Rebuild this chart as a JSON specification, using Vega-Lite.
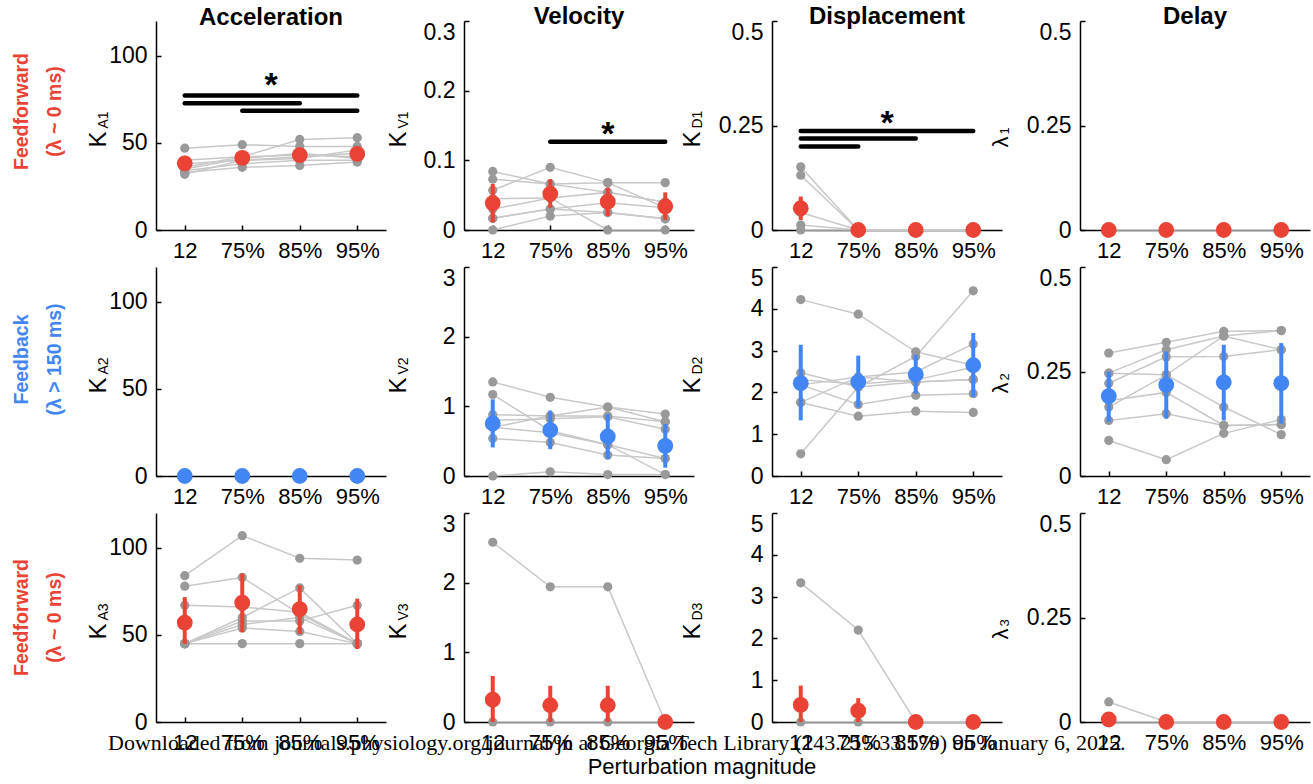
{
"$schema":"https://vega.github.io/schema/vega-lite/v6.json",
"padding":{"left":11,"top":5,"right":4,"bottom":2},
"background":"white",
"datasets":{
"subj":[
{"p":"A1","s":1,"m":1,"v":47},{"p":"A1","s":1,"m":2,"v":49},{"p":"A1","s":1,"m":3,"v":48},{"p":"A1","s":1,"m":4,"v":48},
{"p":"A1","s":2,"m":1,"v":40},{"p":"A1","s":2,"m":2,"v":42},{"p":"A1","s":2,"m":3,"v":52},{"p":"A1","s":2,"m":4,"v":53},
{"p":"A1","s":3,"m":1,"v":38},{"p":"A1","s":3,"m":2,"v":40},{"p":"A1","s":3,"m":3,"v":41},{"p":"A1","s":3,"m":4,"v":46},
{"p":"A1","s":4,"m":1,"v":36},{"p":"A1","s":4,"m":2,"v":42},{"p":"A1","s":4,"m":3,"v":43},{"p":"A1","s":4,"m":4,"v":42},
{"p":"A1","s":5,"m":1,"v":34},{"p":"A1","s":5,"m":2,"v":38},{"p":"A1","s":5,"m":3,"v":40},{"p":"A1","s":5,"m":4,"v":40},
{"p":"A1","s":6,"m":1,"v":33},{"p":"A1","s":6,"m":2,"v":36},{"p":"A1","s":6,"m":3,"v":37},{"p":"A1","s":6,"m":4,"v":39},
{"p":"A1","s":7,"m":1,"v":35},{"p":"A1","s":7,"m":2,"v":41},{"p":"A1","s":7,"m":3,"v":44},{"p":"A1","s":7,"m":4,"v":41},
{"p":"A1","s":8,"m":1,"v":32},{"p":"A1","s":8,"m":2,"v":40},{"p":"A1","s":8,"m":3,"v":42},{"p":"A1","s":8,"m":4,"v":44},
{"p":"V1","s":1,"m":1,"v":0.084},{"p":"V1","s":1,"m":2,"v":0.066},{"p":"V1","s":1,"m":3,"v":0.068},{"p":"V1","s":1,"m":4,"v":0.068},
{"p":"V1","s":2,"m":1,"v":0.073},{"p":"V1","s":2,"m":2,"v":0.066},{"p":"V1","s":2,"m":3,"v":0.054},{"p":"V1","s":2,"m":4,"v":0.040},
{"p":"V1","s":3,"m":1,"v":0.057},{"p":"V1","s":3,"m":2,"v":0.090},{"p":"V1","s":3,"m":3,"v":0.068},{"p":"V1","s":3,"m":4,"v":0.032},
{"p":"V1","s":4,"m":1,"v":0.030},{"p":"V1","s":4,"m":2,"v":0.046},{"p":"V1","s":4,"m":3,"v":0.054},{"p":"V1","s":4,"m":4,"v":0.040},
{"p":"V1","s":5,"m":1,"v":0.017},{"p":"V1","s":5,"m":2,"v":0.030},{"p":"V1","s":5,"m":3,"v":0.039},{"p":"V1","s":5,"m":4,"v":0.032},
{"p":"V1","s":6,"m":1,"v":0.0},{"p":"V1","s":6,"m":2,"v":0.020},{"p":"V1","s":6,"m":3,"v":0.025},{"p":"V1","s":6,"m":4,"v":0.016},
{"p":"V1","s":7,"m":1,"v":0.045},{"p":"V1","s":7,"m":2,"v":0.046},{"p":"V1","s":7,"m":3,"v":0.0},{"p":"V1","s":7,"m":4,"v":0.0},
{"p":"V1","s":8,"m":1,"v":0.017},{"p":"V1","s":8,"m":2,"v":0.030},{"p":"V1","s":8,"m":3,"v":0.025},{"p":"V1","s":8,"m":4,"v":0.016},
{"p":"D1","s":1,"m":1,"v":0.151},{"p":"D1","s":1,"m":2,"v":0},{"p":"D1","s":1,"m":3,"v":0},{"p":"D1","s":1,"m":4,"v":0},
{"p":"D1","s":2,"m":1,"v":0.131},{"p":"D1","s":2,"m":2,"v":0},{"p":"D1","s":2,"m":3,"v":0},{"p":"D1","s":2,"m":4,"v":0},
{"p":"D1","s":3,"m":1,"v":0.012},{"p":"D1","s":3,"m":2,"v":0},{"p":"D1","s":3,"m":3,"v":0},{"p":"D1","s":3,"m":4,"v":0},
{"p":"D1","s":4,"m":1,"v":0.042},{"p":"D1","s":4,"m":2,"v":0},{"p":"D1","s":4,"m":3,"v":0},{"p":"D1","s":4,"m":4,"v":0},
{"p":"D1","s":5,"m":1,"v":0},{"p":"D1","s":5,"m":2,"v":0},{"p":"D1","s":5,"m":3,"v":0},{"p":"D1","s":5,"m":4,"v":0},
{"p":"L1","s":1,"m":1,"v":0},{"p":"L1","s":1,"m":2,"v":0},{"p":"L1","s":1,"m":3,"v":0},{"p":"L1","s":1,"m":4,"v":0},
{"p":"V2","s":1,"m":1,"v":1.35},{"p":"V2","s":1,"m":2,"v":1.13},{"p":"V2","s":1,"m":3,"v":0.99},{"p":"V2","s":1,"m":4,"v":0.78},
{"p":"V2","s":2,"m":1,"v":1.17},{"p":"V2","s":2,"m":2,"v":0.65},{"p":"V2","s":2,"m":3,"v":0.45},{"p":"V2","s":2,"m":4,"v":0.02},
{"p":"V2","s":3,"m":1,"v":0.88},{"p":"V2","s":3,"m":2,"v":0.86},{"p":"V2","s":3,"m":3,"v":0.86},{"p":"V2","s":3,"m":4,"v":0.78},
{"p":"V2","s":4,"m":1,"v":0.70},{"p":"V2","s":4,"m":2,"v":0.86},{"p":"V2","s":4,"m":3,"v":0.99},{"p":"V2","s":4,"m":4,"v":0.89},
{"p":"V2","s":5,"m":1,"v":0.70},{"p":"V2","s":5,"m":2,"v":0.62},{"p":"V2","s":5,"m":3,"v":0.45},{"p":"V2","s":5,"m":4,"v":0.25},
{"p":"V2","s":6,"m":1,"v":0.54},{"p":"V2","s":6,"m":2,"v":0.48},{"p":"V2","s":6,"m":3,"v":0.30},{"p":"V2","s":6,"m":4,"v":0.25},
{"p":"V2","s":7,"m":1,"v":0.0},{"p":"V2","s":7,"m":2,"v":0.06},{"p":"V2","s":7,"m":3,"v":0.02},{"p":"V2","s":7,"m":4,"v":0.02},
{"p":"V2","s":8,"m":1,"v":0.80},{"p":"V2","s":8,"m":2,"v":0.82},{"p":"V2","s":8,"m":3,"v":0.85},{"p":"V2","s":8,"m":4,"v":0.67},
{"p":"D2","s":1,"m":1,"v":4.22},{"p":"D2","s":1,"m":2,"v":3.87},{"p":"D2","s":1,"m":3,"v":2.97},{"p":"D2","s":1,"m":4,"v":2.65},
{"p":"D2","s":2,"m":1,"v":0.53},{"p":"D2","s":2,"m":2,"v":2.13},{"p":"D2","s":2,"m":3,"v":2.86},{"p":"D2","s":2,"m":4,"v":4.43},
{"p":"D2","s":3,"m":1,"v":2.47},{"p":"D2","s":3,"m":2,"v":2.13},{"p":"D2","s":3,"m":3,"v":2.25},{"p":"D2","s":3,"m":4,"v":2.31},
{"p":"D2","s":4,"m":1,"v":2.18},{"p":"D2","s":4,"m":2,"v":2.37},{"p":"D2","s":4,"m":3,"v":2.49},{"p":"D2","s":4,"m":4,"v":3.16},
{"p":"D2","s":5,"m":1,"v":1.76},{"p":"D2","s":5,"m":2,"v":1.43},{"p":"D2","s":5,"m":3,"v":1.55},{"p":"D2","s":5,"m":4,"v":1.52},
{"p":"D2","s":6,"m":1,"v":2.18},{"p":"D2","s":6,"m":2,"v":1.71},{"p":"D2","s":6,"m":3,"v":1.93},{"p":"D2","s":6,"m":4,"v":1.97},
{"p":"D2","s":7,"m":1,"v":1.76},{"p":"D2","s":7,"m":2,"v":2.37},{"p":"D2","s":7,"m":3,"v":2.25},{"p":"D2","s":7,"m":4,"v":2.31},
{"p":"D2","s":8,"m":1,"v":2.30},{"p":"D2","s":8,"m":2,"v":2.20},{"p":"D2","s":8,"m":3,"v":2.30},{"p":"D2","s":8,"m":4,"v":2.60},
{"p":"L2","s":1,"m":1,"v":0.294},{"p":"L2","s":1,"m":2,"v":0.320},{"p":"L2","s":1,"m":3,"v":0.346},{"p":"L2","s":1,"m":4,"v":0.348},
{"p":"L2","s":2,"m":1,"v":0.246},{"p":"L2","s":2,"m":2,"v":0.302},{"p":"L2","s":2,"m":3,"v":0.335},{"p":"L2","s":2,"m":4,"v":0.302},
{"p":"L2","s":3,"m":1,"v":0.222},{"p":"L2","s":3,"m":2,"v":0.285},{"p":"L2","s":3,"m":3,"v":0.286},{"p":"L2","s":3,"m":4,"v":0.302},
{"p":"L2","s":4,"m":1,"v":0.246},{"p":"L2","s":4,"m":2,"v":0.242},{"p":"L2","s":4,"m":3,"v":0.335},{"p":"L2","s":4,"m":4,"v":0.348},
{"p":"L2","s":5,"m":1,"v":0.165},{"p":"L2","s":5,"m":2,"v":0.242},{"p":"L2","s":5,"m":3,"v":0.165},{"p":"L2","s":5,"m":4,"v":0.099},
{"p":"L2","s":6,"m":1,"v":0.133},{"p":"L2","s":6,"m":2,"v":0.149},{"p":"L2","s":6,"m":3,"v":0.121},{"p":"L2","s":6,"m":4,"v":0.123},
{"p":"L2","s":7,"m":1,"v":0.085},{"p":"L2","s":7,"m":2,"v":0.039},{"p":"L2","s":7,"m":3,"v":0.102},{"p":"L2","s":7,"m":4,"v":0.135},
{"p":"L2","s":8,"m":1,"v":0.180},{"p":"L2","s":8,"m":2,"v":0.200},{"p":"L2","s":8,"m":3,"v":0.121},{"p":"L2","s":8,"m":4,"v":0.123},
{"p":"A3","s":1,"m":1,"v":84},{"p":"A3","s":1,"m":2,"v":107},{"p":"A3","s":1,"m":3,"v":94},{"p":"A3","s":1,"m":4,"v":93},
{"p":"A3","s":2,"m":1,"v":78},{"p":"A3","s":2,"m":2,"v":83},{"p":"A3","s":2,"m":3,"v":62},{"p":"A3","s":2,"m":4,"v":45},
{"p":"A3","s":3,"m":1,"v":67},{"p":"A3","s":3,"m":2,"v":66},{"p":"A3","s":3,"m":3,"v":63},{"p":"A3","s":3,"m":4,"v":45},
{"p":"A3","s":4,"m":1,"v":45},{"p":"A3","s":4,"m":2,"v":60},{"p":"A3","s":4,"m":3,"v":77},{"p":"A3","s":4,"m":4,"v":45},
{"p":"A3","s":5,"m":1,"v":45},{"p":"A3","s":5,"m":2,"v":58},{"p":"A3","s":5,"m":3,"v":58},{"p":"A3","s":5,"m":4,"v":67},
{"p":"A3","s":6,"m":1,"v":45},{"p":"A3","s":6,"m":2,"v":54},{"p":"A3","s":6,"m":3,"v":52},{"p":"A3","s":6,"m":4,"v":45},
{"p":"A3","s":7,"m":1,"v":45},{"p":"A3","s":7,"m":2,"v":45},{"p":"A3","s":7,"m":3,"v":45},{"p":"A3","s":7,"m":4,"v":45},
{"p":"A3","s":8,"m":1,"v":45},{"p":"A3","s":8,"m":2,"v":56},{"p":"A3","s":8,"m":3,"v":60},{"p":"A3","s":8,"m":4,"v":45},
{"p":"V3","s":1,"m":1,"v":2.58},{"p":"V3","s":1,"m":2,"v":1.94},{"p":"V3","s":1,"m":3,"v":1.94},{"p":"V3","s":1,"m":4,"v":0},
{"p":"V3","s":2,"m":1,"v":0},{"p":"V3","s":2,"m":2,"v":0},{"p":"V3","s":2,"m":3,"v":0},{"p":"V3","s":2,"m":4,"v":0},
{"p":"D3","s":1,"m":1,"v":3.33},{"p":"D3","s":1,"m":2,"v":2.2},{"p":"D3","s":1,"m":3,"v":0},{"p":"D3","s":1,"m":4,"v":0},
{"p":"D3","s":2,"m":1,"v":0},{"p":"D3","s":2,"m":2,"v":0},{"p":"D3","s":2,"m":3,"v":0},{"p":"D3","s":2,"m":4,"v":0},
{"p":"L3","s":1,"m":1,"v":0.048},{"p":"L3","s":1,"m":2,"v":0},{"p":"L3","s":1,"m":3,"v":0},{"p":"L3","s":1,"m":4,"v":0},
{"p":"L3","s":2,"m":1,"v":0},{"p":"L3","s":2,"m":2,"v":0},{"p":"L3","s":2,"m":3,"v":0},{"p":"L3","s":2,"m":4,"v":0}
],
"means":[
{"p":"A1","m":1,"mean":38.3,"lo":34.3,"hi":42.3},{"p":"A1","m":2,"mean":41.4,"lo":37.4,"hi":45.4},{"p":"A1","m":3,"mean":43,"lo":39,"hi":47},{"p":"A1","m":4,"mean":43.7,"lo":39.7,"hi":47.7},
{"p":"V1","m":1,"mean":0.0386,"lo":0.011,"hi":0.066},{"p":"V1","m":2,"mean":0.052,"lo":0.032,"hi":0.073},{"p":"V1","m":3,"mean":0.0406,"lo":0.020,"hi":0.061},{"p":"V1","m":4,"mean":0.034,"lo":0.0145,"hi":0.054},
{"p":"D1","m":1,"mean":0.052,"lo":0.024,"hi":0.080},{"p":"D1","m":2,"mean":0,"lo":0,"hi":0},{"p":"D1","m":3,"mean":0,"lo":0,"hi":0},{"p":"D1","m":4,"mean":0,"lo":0,"hi":0},
{"p":"L1","m":1,"mean":0,"lo":0,"hi":0},{"p":"L1","m":2,"mean":0,"lo":0,"hi":0},{"p":"L1","m":3,"mean":0,"lo":0,"hi":0},{"p":"L1","m":4,"mean":0,"lo":0,"hi":0},
{"p":"A2","m":1,"mean":0,"lo":0,"hi":0},{"p":"A2","m":2,"mean":0,"lo":0,"hi":0},{"p":"A2","m":3,"mean":0,"lo":0,"hi":0},{"p":"A2","m":4,"mean":0,"lo":0,"hi":0},
{"p":"V2","m":1,"mean":0.755,"lo":0.41,"hi":1.10},{"p":"V2","m":2,"mean":0.659,"lo":0.385,"hi":0.94},{"p":"V2","m":3,"mean":0.567,"lo":0.24,"hi":0.89},{"p":"V2","m":4,"mean":0.433,"lo":0.12,"hi":0.745},
{"p":"D2","m":1,"mean":2.22,"lo":1.33,"hi":3.14},{"p":"D2","m":2,"mean":2.25,"lo":1.64,"hi":2.88},{"p":"D2","m":3,"mean":2.43,"lo":1.97,"hi":2.90},{"p":"D2","m":4,"mean":2.65,"lo":1.89,"hi":3.42},
{"p":"L2","m":1,"mean":0.191,"lo":0.129,"hi":0.25},{"p":"L2","m":2,"mean":0.218,"lo":0.137,"hi":0.298},{"p":"L2","m":3,"mean":0.224,"lo":0.133,"hi":0.314},{"p":"L2","m":4,"mean":0.222,"lo":0.125,"hi":0.318},
{"p":"A3","m":1,"mean":57.1,"lo":44.8,"hi":71.7},{"p":"A3","m":2,"mean":68.5,"lo":51.5,"hi":85.2},{"p":"A3","m":3,"mean":64.8,"lo":50.6,"hi":78.5},{"p":"A3","m":4,"mean":56,"lo":41.9,"hi":70.8},
{"p":"V3","m":1,"mean":0.32,"lo":0,"hi":0.66},{"p":"V3","m":2,"mean":0.24,"lo":0,"hi":0.52},{"p":"V3","m":3,"mean":0.24,"lo":0,"hi":0.52},{"p":"V3","m":4,"mean":0,"lo":0,"hi":0},
{"p":"D3","m":1,"mean":0.41,"lo":0,"hi":0.87},{"p":"D3","m":2,"mean":0.27,"lo":0,"hi":0.57},{"p":"D3","m":3,"mean":0,"lo":0,"hi":0},{"p":"D3","m":4,"mean":0,"lo":0,"hi":0},
{"p":"L3","m":1,"mean":0.006,"lo":0,"hi":0.006},{"p":"L3","m":2,"mean":0,"lo":0,"hi":0},{"p":"L3","m":3,"mean":0,"lo":0,"hi":0},{"p":"L3","m":4,"mean":0,"lo":0,"hi":0}
],
"sig":[
{"p":"A1","m":1,"m2":4,"v":77.2},{"p":"A1","m":1,"m2":3,"v":72.8},{"p":"A1","m":2,"m2":4,"v":68.4},
{"p":"V1","m":2,"m2":4,"v":0.1266},
{"p":"D1","m":1,"m2":4,"v":0.237},{"p":"D1","m":1,"m2":3,"v":0.219},{"p":"D1","m":1,"m2":2,"v":0.2}
],
"star":[
{"p":"A1","m":2.5,"v":87,"t":"*"},{"p":"V1","m":3,"v":0.148,"t":"*"},{"p":"D1","m":2.5,"v":0.272,"t":"*"}
]
},
"title":{"text":"Downloaded from journals.physiology.org/journal/jn at Georgia Tech Library (143.215.33.179) on January 6, 2025.","orient":"bottom","anchor":"start","font":"Liberation Serif","fontSize":22,"fontWeight":"normal","color":"black","offset":-45,"dx":97},
"columns":4,
"spacing":{"row":37,"column":78},
"bounds":"flush",
"concat":[
 {"width":230,"height":209,"title":{"text":"Acceleration","frame":"group","fontSize":24,"fontWeight":"bold","baseline":"alphabetic","offset":-28},
  "resolve":{"axis":{"y":"independent"}},
  "layer":[
   {"data":{"name":"subj"},"transform":[{"filter":"datum.p=='A1'"}],"mark":{"type":"line","color":"#c8c8c8","strokeWidth":1.5},
    "encoding":{"x":{"field":"m","type":"quantitative","scale":{"domain":[0.5,4.5]},"axis":{"title":null,"values":[1,2,3,4],"labelExpr":"['','12','75%','85%','95%'][datum.value]"}},
     "y":{"field":"v","type":"quantitative","scale":{"domain":[0,120]},"axis":{"values":[0,50,100],"labelExpr":"''+datum.value","title":"K","titleFontSize":24,"titleAngle":-90,"titleAlign":"left","titleBaseline":"middle","titleX":-58,"titleY":126}},
     "detail":{"field":"s"}}},
   {"data":{"name":"subj"},"transform":[{"filter":"datum.p=='A1'"}],"mark":{"type":"circle","color":"#999999","size":85,"opacity":1},
    "encoding":{"x":{"field":"m","type":"quantitative"},
     "y":{"field":"v","type":"quantitative","axis":{"orient":"left","labels":false,"ticks":false,"domain":false,"title":"A1","titleFontSize":14,"titleAngle":-90,"titleAlign":"left","titleBaseline":"middle","titleX":-53,"titleY":107}}}},
   {"data":{"name":"sig"},"transform":[{"filter":"datum.p=='A1'"}],"mark":{"type":"rule","color":"black","strokeWidth":4.5,"strokeCap":"round"},
    "encoding":{"x":{"field":"m","type":"quantitative"},"x2":{"field":"m2"},"y":{"field":"v","type":"quantitative","axis":null}}},
   {"data":{"name":"star"},"transform":[{"filter":"datum.p=='A1'"}],"mark":{"type":"text","fontSize":34,"fontWeight":"bold","dy":8,"color":"black"},
    "encoding":{"x":{"field":"m","type":"quantitative"},"y":{"field":"v","type":"quantitative","axis":null},"text":{"field":"t"}}},
   {"data":{"name":"means"},"transform":[{"filter":"datum.p=='A1'"}],"mark":{"type":"rule","color":"#EA4335","strokeWidth":4},
    "encoding":{"x":{"field":"m","type":"quantitative"},"y":{"field":"lo","type":"quantitative","axis":null},"y2":{"field":"hi"}}},
   {"data":{"name":"means"},"transform":[{"filter":"datum.p=='A1'"}],"mark":{"type":"circle","color":"#EA4335","size":250,"opacity":1},
    "encoding":{"x":{"field":"m","type":"quantitative"},"y":{"field":"mean","type":"quantitative","axis":{"orient":"left","labels":false,"ticks":false,"domain":false,"title":["Feedforward","(λ ~ 0 ms)"],"titleColor":"#EA4335","titleFontWeight":"bold","titleFontSize":19.5,"titleLineHeight":33,"titleAngle":-90,"titleAlign":"center","titleBaseline":"top","titleX":-144,"titleY":90}}}}
  ]},
 {"width":230,"height":209,"title":{"text":"Velocity","frame":"group","fontSize":24,"fontWeight":"bold","baseline":"alphabetic","offset":-28},
  "resolve":{"axis":{"y":"independent"}},
  "layer":[
   {"data":{"name":"subj"},"transform":[{"filter":"datum.p=='V1'"}],"mark":{"type":"line","color":"#c8c8c8","strokeWidth":1.5},
    "encoding":{"x":{"field":"m","type":"quantitative","scale":{"domain":[0.5,4.5]},"axis":{"title":null,"values":[1,2,3,4],"labelExpr":"['','12','75%','85%','95%'][datum.value]"}},
     "y":{"field":"v","type":"quantitative","scale":{"domain":[0,0.3]},"axis":{"values":[0,0.1,0.2,0.3],"labelExpr":"''+datum.value","labelBaseline":{"condition":{"test":"datum.value==0.3","value":"top"},"value":"middle"},"title":"K","titleFontSize":24,"titleAngle":-90,"titleAlign":"left","titleBaseline":"middle","titleX":-66,"titleY":126}},
     "detail":{"field":"s"}}},
   {"data":{"name":"subj"},"transform":[{"filter":"datum.p=='V1'"}],"mark":{"type":"circle","color":"#999999","size":85,"opacity":1},
    "encoding":{"x":{"field":"m","type":"quantitative"},
     "y":{"field":"v","type":"quantitative","axis":{"orient":"left","labels":false,"ticks":false,"domain":false,"title":"V1","titleFontSize":14,"titleAngle":-90,"titleAlign":"left","titleBaseline":"middle","titleX":-61,"titleY":107}}}},
   {"data":{"name":"sig"},"transform":[{"filter":"datum.p=='V1'"}],"mark":{"type":"rule","color":"black","strokeWidth":4.5,"strokeCap":"round"},
    "encoding":{"x":{"field":"m","type":"quantitative"},"x2":{"field":"m2"},"y":{"field":"v","type":"quantitative","axis":null}}},
   {"data":{"name":"star"},"transform":[{"filter":"datum.p=='V1'"}],"mark":{"type":"text","fontSize":34,"fontWeight":"bold","dy":8,"color":"black"},
    "encoding":{"x":{"field":"m","type":"quantitative"},"y":{"field":"v","type":"quantitative","axis":null},"text":{"field":"t"}}},
   {"data":{"name":"means"},"transform":[{"filter":"datum.p=='V1'"}],"mark":{"type":"rule","color":"#EA4335","strokeWidth":4},
    "encoding":{"x":{"field":"m","type":"quantitative"},"y":{"field":"lo","type":"quantitative","axis":null},"y2":{"field":"hi"}}},
   {"data":{"name":"means"},"transform":[{"filter":"datum.p=='V1'"}],"mark":{"type":"circle","color":"#EA4335","size":250,"opacity":1},
    "encoding":{"x":{"field":"m","type":"quantitative"},"y":{"field":"mean","type":"quantitative","axis":null}}}
  ]},
 {"width":230,"height":209,"title":{"text":"Displacement","frame":"group","fontSize":24,"fontWeight":"bold","baseline":"alphabetic","offset":-28},
  "resolve":{"axis":{"y":"independent"}},
  "layer":[
   {"data":{"name":"subj"},"transform":[{"filter":"datum.p=='D1'"}],"mark":{"type":"line","color":"#c8c8c8","strokeWidth":1.5},
    "encoding":{"x":{"field":"m","type":"quantitative","scale":{"domain":[0.5,4.5]},"axis":{"title":null,"values":[1,2,3,4],"labelExpr":"['','12','75%','85%','95%'][datum.value]"}},
     "y":{"field":"v","type":"quantitative","scale":{"domain":[0,0.5]},"axis":{"values":[0,0.25,0.5],"labelExpr":"''+datum.value","labelBaseline":{"condition":{"test":"datum.value==0.5","value":"top"},"value":"middle"},"title":"K","titleFontSize":24,"titleAngle":-90,"titleAlign":"left","titleBaseline":"middle","titleX":-80,"titleY":126}},
     "detail":{"field":"s"}}},
   {"data":{"name":"subj"},"transform":[{"filter":"datum.p=='D1'"}],"mark":{"type":"circle","color":"#999999","size":85,"opacity":1},
    "encoding":{"x":{"field":"m","type":"quantitative"},
     "y":{"field":"v","type":"quantitative","axis":{"orient":"left","labels":false,"ticks":false,"domain":false,"title":"D1","titleFontSize":14,"titleAngle":-90,"titleAlign":"left","titleBaseline":"middle","titleX":-75,"titleY":107}}}},
   {"data":{"name":"sig"},"transform":[{"filter":"datum.p=='D1'"}],"mark":{"type":"rule","color":"black","strokeWidth":4.5,"strokeCap":"round"},
    "encoding":{"x":{"field":"m","type":"quantitative"},"x2":{"field":"m2"},"y":{"field":"v","type":"quantitative","axis":null}}},
   {"data":{"name":"star"},"transform":[{"filter":"datum.p=='D1'"}],"mark":{"type":"text","fontSize":34,"fontWeight":"bold","dy":8,"color":"black"},
    "encoding":{"x":{"field":"m","type":"quantitative"},"y":{"field":"v","type":"quantitative","axis":null},"text":{"field":"t"}}},
   {"data":{"name":"means"},"transform":[{"filter":"datum.p=='D1'"}],"mark":{"type":"rule","color":"#EA4335","strokeWidth":4},
    "encoding":{"x":{"field":"m","type":"quantitative"},"y":{"field":"lo","type":"quantitative","axis":null},"y2":{"field":"hi"}}},
   {"data":{"name":"means"},"transform":[{"filter":"datum.p=='D1'"}],"mark":{"type":"circle","color":"#EA4335","size":250,"opacity":1},
    "encoding":{"x":{"field":"m","type":"quantitative"},"y":{"field":"mean","type":"quantitative","axis":null}}}
  ]},
 {"width":230,"height":209,"title":{"text":"Delay","frame":"group","fontSize":24,"fontWeight":"bold","baseline":"alphabetic","offset":-28},
  "resolve":{"axis":{"y":"independent"}},
  "layer":[
   {"data":{"name":"subj"},"transform":[{"filter":"datum.p=='L1'"}],"mark":{"type":"line","color":"#c8c8c8","strokeWidth":1.5},
    "encoding":{"x":{"field":"m","type":"quantitative","scale":{"domain":[0.5,4.5]},"axis":{"title":null,"values":[1,2,3,4],"labelExpr":"['','12','75%','85%','95%'][datum.value]"}},
     "y":{"field":"v","type":"quantitative","scale":{"domain":[0,0.5]},"axis":{"values":[0,0.25,0.5],"labelExpr":"''+datum.value","labelBaseline":{"condition":{"test":"datum.value==0.5","value":"top"},"value":"middle"},"title":"λ","titleFontSize":22,"titleAngle":-90,"titleAlign":"left","titleBaseline":"middle","titleX":-80,"titleY":126}},
     "detail":{"field":"s"}}},
   {"data":{"name":"subj"},"transform":[{"filter":"datum.p=='L1'"}],"mark":{"type":"circle","color":"#999999","size":85,"opacity":1},
    "encoding":{"x":{"field":"m","type":"quantitative"},
     "y":{"field":"v","type":"quantitative","axis":{"orient":"left","labels":false,"ticks":false,"domain":false,"title":"1","titleFontSize":13,"titleAngle":-90,"titleAlign":"left","titleBaseline":"middle","titleX":-76,"titleY":113}}}},
   {"data":{"name":"means"},"transform":[{"filter":"datum.p=='L1'"}],"mark":{"type":"rule","color":"#EA4335","strokeWidth":4},
    "encoding":{"x":{"field":"m","type":"quantitative"},"y":{"field":"lo","type":"quantitative","axis":null},"y2":{"field":"hi"}}},
   {"data":{"name":"means"},"transform":[{"filter":"datum.p=='L1'"}],"mark":{"type":"circle","color":"#EA4335","size":250,"opacity":1},
    "encoding":{"x":{"field":"m","type":"quantitative"},"y":{"field":"mean","type":"quantitative","axis":null}}}
  ]},
 {"width":230,"height":209,
  "resolve":{"axis":{"y":"independent"}},
  "layer":[
   {"data":{"name":"subj"},"transform":[{"filter":"datum.p=='A2'"}],"mark":{"type":"line","color":"#c8c8c8","strokeWidth":1.5},
    "encoding":{"x":{"field":"m","type":"quantitative","scale":{"domain":[0.5,4.5]},"axis":{"title":null,"values":[1,2,3,4],"labelExpr":"['','12','75%','85%','95%'][datum.value]"}},
     "y":{"field":"v","type":"quantitative","scale":{"domain":[0,120]},"axis":{"values":[0,50,100],"labelExpr":"''+datum.value","title":"K","titleFontSize":24,"titleAngle":-90,"titleAlign":"left","titleBaseline":"middle","titleX":-58,"titleY":126}},
     "detail":{"field":"s"}}},
   {"data":{"name":"means"},"transform":[{"filter":"datum.p=='A2'"}],"mark":{"type":"rule","color":"#4285F4","strokeWidth":4},
    "encoding":{"x":{"field":"m","type":"quantitative"},"y":{"field":"lo","type":"quantitative","axis":{"orient":"left","labels":false,"ticks":false,"domain":false,"title":"A2","titleFontSize":14,"titleAngle":-90,"titleAlign":"left","titleBaseline":"middle","titleX":-53,"titleY":107}},"y2":{"field":"hi"}}},
   {"data":{"name":"means"},"transform":[{"filter":"datum.p=='A2'"}],"mark":{"type":"circle","color":"#4285F4","size":250,"opacity":1},
    "encoding":{"x":{"field":"m","type":"quantitative"},"y":{"field":"mean","type":"quantitative","axis":{"orient":"left","labels":false,"ticks":false,"domain":false,"title":["Feedback","(λ > 150 ms)"],"titleColor":"#4285F4","titleFontWeight":"bold","titleFontSize":19.5,"titleLineHeight":33,"titleAngle":-90,"titleAlign":"center","titleBaseline":"top","titleX":-144,"titleY":92}}}}
  ]},
 {"width":230,"height":209,
  "resolve":{"axis":{"y":"independent"}},
  "layer":[
   {"data":{"name":"subj"},"transform":[{"filter":"datum.p=='V2'"}],"mark":{"type":"line","color":"#c8c8c8","strokeWidth":1.5},
    "encoding":{"x":{"field":"m","type":"quantitative","scale":{"domain":[0.5,4.5]},"axis":{"title":null,"values":[1,2,3,4],"labelExpr":"['','12','75%','85%','95%'][datum.value]"}},
     "y":{"field":"v","type":"quantitative","scale":{"domain":[0,3]},"axis":{"values":[0,1,2,3],"labelExpr":"''+datum.value","labelBaseline":{"condition":{"test":"datum.value==3","value":"top"},"value":"middle"},"title":"K","titleFontSize":24,"titleAngle":-90,"titleAlign":"left","titleBaseline":"middle","titleX":-66,"titleY":126}},
     "detail":{"field":"s"}}},
   {"data":{"name":"subj"},"transform":[{"filter":"datum.p=='V2'"}],"mark":{"type":"circle","color":"#999999","size":85,"opacity":1},
    "encoding":{"x":{"field":"m","type":"quantitative"},
     "y":{"field":"v","type":"quantitative","axis":{"orient":"left","labels":false,"ticks":false,"domain":false,"title":"V2","titleFontSize":14,"titleAngle":-90,"titleAlign":"left","titleBaseline":"middle","titleX":-61,"titleY":107}}}},
   {"data":{"name":"means"},"transform":[{"filter":"datum.p=='V2'"}],"mark":{"type":"rule","color":"#4285F4","strokeWidth":4},
    "encoding":{"x":{"field":"m","type":"quantitative"},"y":{"field":"lo","type":"quantitative","axis":null},"y2":{"field":"hi"}}},
   {"data":{"name":"means"},"transform":[{"filter":"datum.p=='V2'"}],"mark":{"type":"circle","color":"#4285F4","size":250,"opacity":1},
    "encoding":{"x":{"field":"m","type":"quantitative"},"y":{"field":"mean","type":"quantitative","axis":null}}}
  ]},
 {"width":230,"height":209,
  "resolve":{"axis":{"y":"independent"}},
  "layer":[
   {"data":{"name":"subj"},"transform":[{"filter":"datum.p=='D2'"}],"mark":{"type":"line","color":"#c8c8c8","strokeWidth":1.5},
    "encoding":{"x":{"field":"m","type":"quantitative","scale":{"domain":[0.5,4.5]},"axis":{"title":null,"values":[1,2,3,4],"labelExpr":"['','12','75%','85%','95%'][datum.value]"}},
     "y":{"field":"v","type":"quantitative","scale":{"domain":[0,5]},"axis":{"values":[0,1,2,3,4,5],"labelExpr":"''+datum.value","labelBaseline":{"condition":{"test":"datum.value==5","value":"top"},"value":"middle"},"title":"K","titleFontSize":24,"titleAngle":-90,"titleAlign":"left","titleBaseline":"middle","titleX":-80,"titleY":126}},
     "detail":{"field":"s"}}},
   {"data":{"name":"subj"},"transform":[{"filter":"datum.p=='D2'"}],"mark":{"type":"circle","color":"#999999","size":85,"opacity":1},
    "encoding":{"x":{"field":"m","type":"quantitative"},
     "y":{"field":"v","type":"quantitative","axis":{"orient":"left","labels":false,"ticks":false,"domain":false,"title":"D2","titleFontSize":14,"titleAngle":-90,"titleAlign":"left","titleBaseline":"middle","titleX":-75,"titleY":107}}}},
   {"data":{"name":"means"},"transform":[{"filter":"datum.p=='D2'"}],"mark":{"type":"rule","color":"#4285F4","strokeWidth":4},
    "encoding":{"x":{"field":"m","type":"quantitative"},"y":{"field":"lo","type":"quantitative","axis":null},"y2":{"field":"hi"}}},
   {"data":{"name":"means"},"transform":[{"filter":"datum.p=='D2'"}],"mark":{"type":"circle","color":"#4285F4","size":250,"opacity":1},
    "encoding":{"x":{"field":"m","type":"quantitative"},"y":{"field":"mean","type":"quantitative","axis":null}}}
  ]},
 {"width":230,"height":209,
  "resolve":{"axis":{"y":"independent"}},
  "layer":[
   {"data":{"name":"subj"},"transform":[{"filter":"datum.p=='L2'"}],"mark":{"type":"line","color":"#c8c8c8","strokeWidth":1.5},
    "encoding":{"x":{"field":"m","type":"quantitative","scale":{"domain":[0.5,4.5]},"axis":{"title":null,"values":[1,2,3,4],"labelExpr":"['','12','75%','85%','95%'][datum.value]"}},
     "y":{"field":"v","type":"quantitative","scale":{"domain":[0,0.5]},"axis":{"values":[0,0.25,0.5],"labelExpr":"''+datum.value","labelBaseline":{"condition":{"test":"datum.value==0.5","value":"top"},"value":"middle"},"title":"λ","titleFontSize":22,"titleAngle":-90,"titleAlign":"left","titleBaseline":"middle","titleX":-80,"titleY":126}},
     "detail":{"field":"s"}}},
   {"data":{"name":"subj"},"transform":[{"filter":"datum.p=='L2'"}],"mark":{"type":"circle","color":"#999999","size":85,"opacity":1},
    "encoding":{"x":{"field":"m","type":"quantitative"},
     "y":{"field":"v","type":"quantitative","axis":{"orient":"left","labels":false,"ticks":false,"domain":false,"title":"2","titleFontSize":13,"titleAngle":-90,"titleAlign":"left","titleBaseline":"middle","titleX":-76,"titleY":113}}}},
   {"data":{"name":"means"},"transform":[{"filter":"datum.p=='L2'"}],"mark":{"type":"rule","color":"#4285F4","strokeWidth":4},
    "encoding":{"x":{"field":"m","type":"quantitative"},"y":{"field":"lo","type":"quantitative","axis":null},"y2":{"field":"hi"}}},
   {"data":{"name":"means"},"transform":[{"filter":"datum.p=='L2'"}],"mark":{"type":"circle","color":"#4285F4","size":250,"opacity":1},
    "encoding":{"x":{"field":"m","type":"quantitative"},"y":{"field":"mean","type":"quantitative","axis":null}}}
  ]},
 {"width":230,"height":209,
  "resolve":{"axis":{"y":"independent"}},
  "layer":[
   {"data":{"name":"subj"},"transform":[{"filter":"datum.p=='A3'"}],"mark":{"type":"line","color":"#c8c8c8","strokeWidth":1.5},
    "encoding":{"x":{"field":"m","type":"quantitative","scale":{"domain":[0.5,4.5]},"axis":{"title":null,"values":[1,2,3,4],"labelExpr":"['','12','75%','85%','95%'][datum.value]"}},
     "y":{"field":"v","type":"quantitative","scale":{"domain":[0,120]},"axis":{"values":[0,50,100],"labelExpr":"''+datum.value","title":"K","titleFontSize":24,"titleAngle":-90,"titleAlign":"left","titleBaseline":"middle","titleX":-58,"titleY":126}},
     "detail":{"field":"s"}}},
   {"data":{"name":"subj"},"transform":[{"filter":"datum.p=='A3'"}],"mark":{"type":"circle","color":"#999999","size":85,"opacity":1},
    "encoding":{"x":{"field":"m","type":"quantitative"},
     "y":{"field":"v","type":"quantitative","axis":{"orient":"left","labels":false,"ticks":false,"domain":false,"title":"A3","titleFontSize":14,"titleAngle":-90,"titleAlign":"left","titleBaseline":"middle","titleX":-53,"titleY":107}}}},
   {"data":{"name":"means"},"transform":[{"filter":"datum.p=='A3'"}],"mark":{"type":"rule","color":"#EA4335","strokeWidth":4},
    "encoding":{"x":{"field":"m","type":"quantitative"},"y":{"field":"lo","type":"quantitative","axis":null},"y2":{"field":"hi"}}},
   {"data":{"name":"means"},"transform":[{"filter":"datum.p=='A3'"}],"mark":{"type":"circle","color":"#EA4335","size":250,"opacity":1},
    "encoding":{"x":{"field":"m","type":"quantitative"},"y":{"field":"mean","type":"quantitative","axis":{"orient":"left","labels":false,"ticks":false,"domain":false,"title":["Feedforward","(λ ~ 0 ms)"],"titleColor":"#EA4335","titleFontWeight":"bold","titleFontSize":19.5,"titleLineHeight":33,"titleAngle":-90,"titleAlign":"center","titleBaseline":"top","titleX":-144,"titleY":104}}}}
  ]},
 {"width":230,"height":209,
  "title":{"text":"Perturbation magnitude","orient":"bottom","frame":"group","fontSize":22,"fontWeight":"normal","dx":123,"offset":4},
  "resolve":{"axis":{"y":"independent"}},
  "layer":[
   {"data":{"name":"subj"},"transform":[{"filter":"datum.p=='V3'"}],"mark":{"type":"line","color":"#c8c8c8","strokeWidth":1.5},
    "encoding":{"x":{"field":"m","type":"quantitative","scale":{"domain":[0.5,4.5]},"axis":{"title":null,"values":[1,2,3,4],"labelExpr":"['','12','75%','85%','95%'][datum.value]"}},
     "y":{"field":"v","type":"quantitative","scale":{"domain":[0,3]},"axis":{"values":[0,1,2,3],"labelExpr":"''+datum.value","labelBaseline":{"condition":{"test":"datum.value==3","value":"top"},"value":"middle"},"title":"K","titleFontSize":24,"titleAngle":-90,"titleAlign":"left","titleBaseline":"middle","titleX":-66,"titleY":126}},
     "detail":{"field":"s"}}},
   {"data":{"name":"subj"},"transform":[{"filter":"datum.p=='V3'"}],"mark":{"type":"circle","color":"#999999","size":85,"opacity":1},
    "encoding":{"x":{"field":"m","type":"quantitative"},
     "y":{"field":"v","type":"quantitative","axis":{"orient":"left","labels":false,"ticks":false,"domain":false,"title":"V3","titleFontSize":14,"titleAngle":-90,"titleAlign":"left","titleBaseline":"middle","titleX":-61,"titleY":107}}}},
   {"data":{"name":"means"},"transform":[{"filter":"datum.p=='V3'"}],"mark":{"type":"rule","color":"#EA4335","strokeWidth":4},
    "encoding":{"x":{"field":"m","type":"quantitative"},"y":{"field":"lo","type":"quantitative","axis":null},"y2":{"field":"hi"}}},
   {"data":{"name":"means"},"transform":[{"filter":"datum.p=='V3'"}],"mark":{"type":"circle","color":"#EA4335","size":250,"opacity":1},
    "encoding":{"x":{"field":"m","type":"quantitative"},"y":{"field":"mean","type":"quantitative","axis":null}}}
  ]},
 {"width":230,"height":209,
  "resolve":{"axis":{"y":"independent"}},
  "layer":[
   {"data":{"name":"subj"},"transform":[{"filter":"datum.p=='D3'"}],"mark":{"type":"line","color":"#c8c8c8","strokeWidth":1.5},
    "encoding":{"x":{"field":"m","type":"quantitative","scale":{"domain":[0.5,4.5]},"axis":{"title":null,"values":[1,2,3,4],"labelExpr":"['','12','75%','85%','95%'][datum.value]"}},
     "y":{"field":"v","type":"quantitative","scale":{"domain":[0,5]},"axis":{"values":[0,1,2,3,4,5],"labelExpr":"''+datum.value","labelBaseline":{"condition":{"test":"datum.value==5","value":"top"},"value":"middle"},"title":"K","titleFontSize":24,"titleAngle":-90,"titleAlign":"left","titleBaseline":"middle","titleX":-80,"titleY":126}},
     "detail":{"field":"s"}}},
   {"data":{"name":"subj"},"transform":[{"filter":"datum.p=='D3'"}],"mark":{"type":"circle","color":"#999999","size":85,"opacity":1},
    "encoding":{"x":{"field":"m","type":"quantitative"},
     "y":{"field":"v","type":"quantitative","axis":{"orient":"left","labels":false,"ticks":false,"domain":false,"title":"D3","titleFontSize":14,"titleAngle":-90,"titleAlign":"left","titleBaseline":"middle","titleX":-75,"titleY":107}}}},
   {"data":{"name":"means"},"transform":[{"filter":"datum.p=='D3'"}],"mark":{"type":"rule","color":"#EA4335","strokeWidth":4},
    "encoding":{"x":{"field":"m","type":"quantitative"},"y":{"field":"lo","type":"quantitative","axis":null},"y2":{"field":"hi"}}},
   {"data":{"name":"means"},"transform":[{"filter":"datum.p=='D3'"}],"mark":{"type":"circle","color":"#EA4335","size":250,"opacity":1},
    "encoding":{"x":{"field":"m","type":"quantitative"},"y":{"field":"mean","type":"quantitative","axis":null}}}
  ]},
 {"width":230,"height":209,
  "resolve":{"axis":{"y":"independent"}},
  "layer":[
   {"data":{"name":"subj"},"transform":[{"filter":"datum.p=='L3'"}],"mark":{"type":"line","color":"#c8c8c8","strokeWidth":1.5},
    "encoding":{"x":{"field":"m","type":"quantitative","scale":{"domain":[0.5,4.5]},"axis":{"title":null,"values":[1,2,3,4],"labelExpr":"['','12','75%','85%','95%'][datum.value]"}},
     "y":{"field":"v","type":"quantitative","scale":{"domain":[0,0.5]},"axis":{"values":[0,0.25,0.5],"labelExpr":"''+datum.value","labelBaseline":{"condition":{"test":"datum.value==0.5","value":"top"},"value":"middle"},"title":"λ","titleFontSize":22,"titleAngle":-90,"titleAlign":"left","titleBaseline":"middle","titleX":-80,"titleY":126}},
     "detail":{"field":"s"}}},
   {"data":{"name":"subj"},"transform":[{"filter":"datum.p=='L3'"}],"mark":{"type":"circle","color":"#999999","size":85,"opacity":1},
    "encoding":{"x":{"field":"m","type":"quantitative"},
     "y":{"field":"v","type":"quantitative","axis":{"orient":"left","labels":false,"ticks":false,"domain":false,"title":"3","titleFontSize":13,"titleAngle":-90,"titleAlign":"left","titleBaseline":"middle","titleX":-76,"titleY":113}}}},
   {"data":{"name":"means"},"transform":[{"filter":"datum.p=='L3'"}],"mark":{"type":"rule","color":"#EA4335","strokeWidth":4},
    "encoding":{"x":{"field":"m","type":"quantitative"},"y":{"field":"lo","type":"quantitative","axis":null},"y2":{"field":"hi"}}},
   {"data":{"name":"means"},"transform":[{"filter":"datum.p=='L3'"}],"mark":{"type":"circle","color":"#EA4335","size":250,"opacity":1},
    "encoding":{"x":{"field":"m","type":"quantitative"},"y":{"field":"mean","type":"quantitative","axis":null}}}
  ]}
],
"config":{
 "view":{"stroke":null},
 "font":"Liberation Sans",
 "axis":{"domainColor":"black","domainWidth":1.5,"labelColor":"black","labelFont":"Liberation Sans","labelFontSize":22,"tickColor":"black","tickSize":-5,"tickWidth":1.5,"grid":false,"titleColor":"black","titleFontWeight":"normal","titleFont":"Liberation Sans","labelOverlap":false},
 "axisX":{"labelPadding":15},
 "axisY":{"labelFontSize":23,"labelPadding":14},
 "title":{"color":"black","font":"Liberation Sans"}
}
}
